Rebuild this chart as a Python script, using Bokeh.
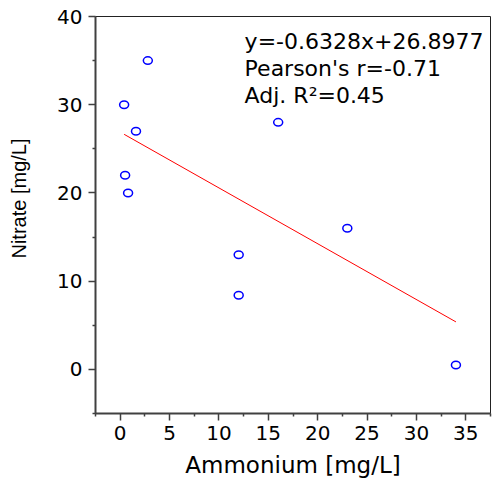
from bokeh.plotting import figure
from bokeh.models import Range1d, FixedTicker, Label, Title
from bokeh.embed import file_html
from bokeh.resources import INLINE

# data
ammonium = [0.4, 0.5, 0.8, 1.6, 2.8, 12, 12, 16, 23, 34]
nitrate = [30, 22, 20, 27, 35, 13, 8.4, 28, 16, 0.5]
slope = -0.6328
intercept = 26.8977
fit_lines = ["y=-0.6328x+26.8977", "Pearson's r=-0.71", "Adj. R\u00b2=0.45"]
x_ticks = [0, 5, 10, 15, 20, 25, 30, 35]
y_ticks = [0, 10, 20, 30, 40]
x_title = "Ammonium [mg/L]"
y_title = "Nitrate [mg/L]"

FONT = "DejaVu Sans"
AXC = "#404040"

p = figure(width=493, height=484, output_backend="svg", toolbar_location=None,
           x_range=Range1d(-2.5, 37.5), y_range=Range1d(-5, 40),
           min_border_left=95, min_border_right=3, min_border_top=16, min_border_bottom=71)
p.background_fill_color = "white"
p.border_fill_color = "white"
p.xgrid.visible = False
p.ygrid.visible = False
p.outline_line_color = "#222222"
p.outline_line_width = 1
p.outline_line_alpha = 1

for ax, ticks, minors in ((p.xaxis[0], x_ticks, [t + 2.5 for t in [-5] + x_ticks]),
                          (p.yaxis[0], y_ticks, [t + 5 for t in [-10] + y_ticks])):
    ax.ticker = FixedTicker(ticks=ticks, minor_ticks=minors)
    ax.axis_line_color = AXC
    ax.axis_line_width = 2
    ax.major_tick_line_color = AXC
    ax.major_tick_line_width = 1.5
    ax.minor_tick_line_color = AXC
    ax.minor_tick_line_width = 1.5
    ax.major_tick_out = 7
    ax.major_tick_in = 0
    ax.minor_tick_out = 3
    ax.minor_tick_in = 0
    ax.major_label_text_font = FONT
    ax.major_label_text_font_size = "20px"
    ax.major_label_text_color = "black"
    ax.axis_label_text_font = FONT
    ax.axis_label_text_font_style = "normal"
    ax.axis_label_text_color = "black"

p.xaxis.axis_label = x_title
p.xaxis.axis_label_text_font_size = "23px"
p.xaxis.major_label_standoff = 5
p.xaxis.axis_label_standoff = 9
p.yaxis.major_label_standoff = 6

# spacer between the y tick labels and the y title
p.add_layout(Title(text=" ", standoff=20, text_font_size="1px",
                   text_color="white"), "left")
# y-axis title, placed slightly above centre like the reference
p.add_layout(Title(text=y_title, align="right", offset=122, standoff=4,
                   text_font="Liberation Sans", text_font_size="20px",
                   text_font_style="normal", text_color="black"), "left")

# regression line across the data range
x0, x1 = min(ammonium), max(ammonium)
p.line([x0, x1], [slope * x0 + intercept, slope * x1 + intercept],
       line_color="#ff0000", line_width=1)

p.ellipse(x=ammonium, y=nitrate, width=9, height=7.5,
          width_units="screen", height_units="screen",
          fill_color=None, line_color="#0000ff", line_width=1.5)

for i, txt in enumerate(fit_lines):
    p.add_layout(Label(x=12.6, y=37.2 - i * 3.1, text=txt, text_font=FONT,
                       text_font_size="22px", text_color="black",
                       text_baseline="alphabetic", text_align="left"))

open("out.html", "w").write(file_html(p, INLINE))
